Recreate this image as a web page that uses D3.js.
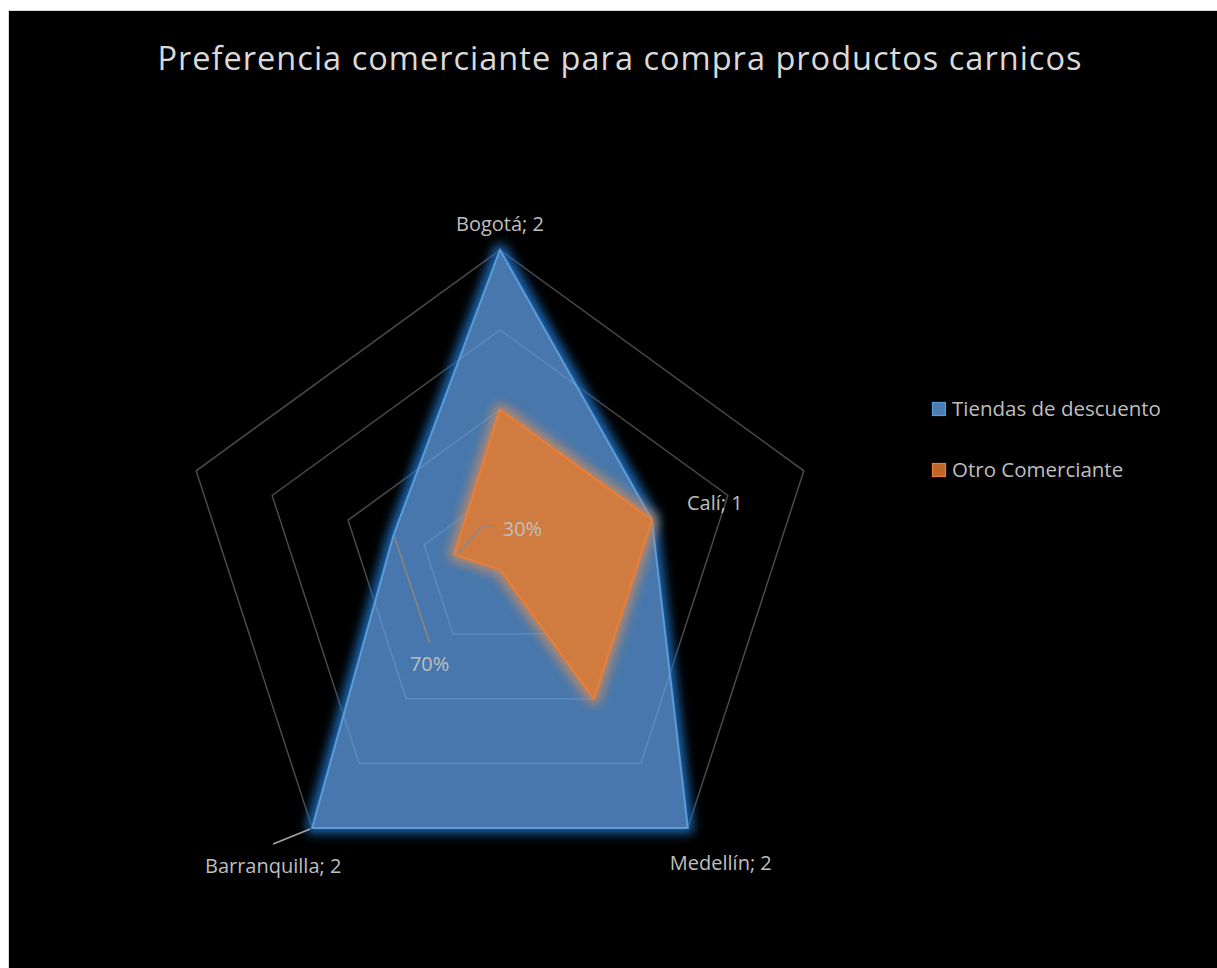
<!DOCTYPE html>
<html><head><meta charset="utf-8">
<script src="https://cdn.jsdelivr.net/npm/d3@7"></script>
<style>html,body{margin:0;padding:0;background:#fff;}svg{display:block;}</style>
</head><body>
<script>
const title = "Preferencia comerciante para compra productos carnicos";
const categories = ["Bogotá", "Calí", "Medellín", "Barranquilla", ""];
const seriesNames = ["Tiendas de descuento", "Otro Comerciante"];
const tiendas = [2, 1, 2, 2, 0.7];
const otro = [1, 1, 1, 0, 0.3];
const gridTicks = [0.5, 1, 1.5, 2];
const maxValue = 2;

const W = 1217, H = 968;
const svg = d3.select("body").append("svg").attr("width", W).attr("height", H);
const defs = svg.append("defs");
function glow(id, color, sd, op, dil) {
  const f = defs.append("filter").attr("id", id).attr("x", "-30%").attr("y", "-30%").attr("width", "160%").attr("height", "160%");
  f.append("feMorphology").attr("in", "SourceAlpha").attr("operator", "dilate").attr("radius", dil).attr("result", "d");
  f.append("feGaussianBlur").attr("in", "d").attr("stdDeviation", sd).attr("result", "b");
  f.append("feFlood").attr("flood-color", color).attr("flood-opacity", op);
  f.append("feComposite").attr("in2", "b").attr("operator", "in").attr("result", "g");
  const m = f.append("feMerge");
  m.append("feMergeNode").attr("in", "g");
  m.append("feMergeNode").attr("in", "SourceGraphic");
}
glow("glowBlue", "#1f6fc0", 5.5, 0.95, 4);
glow("glowOrange", "#c08a66", 5.5, 0.9, 4);

// chart area
svg.append("rect").attr("x", 8.5).attr("y", 10.5).attr("width", W - 8).attr("height", H - 10)
  .attr("fill", "#000").attr("stroke", "#d9d9d9").attr("stroke-width", 1);

const font = "'Open Sans', 'Noto Sans', sans-serif";
const txtColor = "#bfbfbf";

// title
const t = svg.append("text").attr("x", 620).attr("y", 70).attr("text-anchor", "middle")
  .attr("fill", "#d9d9d9").attr("font-family", font).attr("font-size", 30).attr("letter-spacing", 1).text(title);
const tw = t.node().getComputedTextLength();
t.attr("font-size", 30 * 930 / tw);

const cx = 500, cy = 569.5, R = 319.5;
const r = d3.scaleLinear().domain([0, maxValue]).range([0, R]);
const n = categories.length;
const angle = i => (i * 2 * Math.PI) / n;
const pt = (i, v) => [cx + r(v) * Math.sin(angle(i)), cy - r(v) * Math.cos(angle(i))];
const line = d3.line().curve(d3.curveLinearClosed);

const g = svg.append("g");
// grid
gridTicks.forEach(tk => {
  g.append("path").attr("d", line(categories.map((c, i) => pt(i, tk))))
    .attr("fill", "none").attr("stroke", "#4a4a4a").attr("stroke-width", 1.5);
});

// series
const series = [
  {name: seriesNames[0], values: tiendas, fill: "#4677ac", stroke: "#5b9bd5", filter: "url(#glowBlue)", sw: 2, op: 1},
  {name: seriesNames[1], values: otro, fill: "#d27b3e", stroke: "#ed7d31", filter: "url(#glowOrange)", sw: 2, op: 0.95}
];
const clip = defs.append("clipPath").attr("id", "seriesClip");
clip.append("path").attr("d", line(tiendas.map((v, i) => pt(i, v))));
series.forEach((s, si) => {
  g.append("path").attr("d", line(s.values.map((v, i) => pt(i, v))))
    .attr("fill", s.fill).attr("fill-opacity", s.op)
    .attr("stroke", s.stroke).attr("stroke-width", s.sw).attr("stroke-linejoin", "miter")
    .attr("filter", s.filter);
  if (si === 0) {
    // grid seen through the translucent fill
    gridTicks.forEach(tk => {
      g.append("path").attr("d", line(categories.map((c, i) => pt(i, tk))))
        .attr("clip-path", "url(#seriesClip)")
        .attr("fill", "none").attr("stroke", "#7fb0e0").attr("stroke-opacity", 0.35).attr("stroke-width", 1.5);
    });
  }
});

// data labels
const fmtPct = d3.format(".0%");
function labelText(i, v) { return categories[i] ? `${categories[i]}; ${v}` : fmtPct(v); }
const lab = svg.append("g").attr("font-family", font).attr("font-size", 20).attr("fill", txtColor);
// blue series labels: [dx, dy, anchor] offsets from point
const blueOff = [[0, -19, "middle"], [35, -10, "start"], [-18, 42, "start"], [-39, 45, "middle"], [36, 136, "middle"]];
tiendas.forEach((v, i) => {
  const [x, y] = pt(i, v);
  const o = blueOff[i];
  lab.append("text").attr("x", x + o[0]).attr("y", y + o[1]).attr("text-anchor", o[2]).text(labelText(i, v));
});
// leader lines
{
  const [x, y] = pt(3, tiendas[3]);
  svg.append("path").attr("d", `M${x - 2},${y + 1}L${x - 39},${y + 16}`).attr("stroke", "#a6a6a6").attr("stroke-width", 1.5).attr("fill", "none");
  const [x4, y4] = pt(4, tiendas[4]);
  svg.append("path").attr("d", `M${x4 + 1},${y4 + 2}L${x4 + 36},${y4 + 108}`).attr("stroke", "#8f8579").attr("stroke-width", 1.5).attr("fill", "none");
  const [ox, oy] = pt(4, otro[4]);
  svg.append("path").attr("d", `M${ox + 2},${oy}L${ox + 28},${oy - 29}L${ox + 38},${oy - 29}`).attr("stroke", "#7f8c99").attr("stroke-width", 1.5).attr("fill", "none");
  lab.append("text").attr("x", ox + 68).attr("y", oy - 19).attr("text-anchor", "middle").text(labelText(4, otro[4]));
}

// legend
const leg = svg.append("g").attr("font-family", font).attr("font-size", 20.5).attr("fill", txtColor);
series.forEach((s, i) => {
  const y = 409 + i * 61;
  leg.append("rect").attr("x", 932.5).attr("y", y - 6.5).attr("width", 13).attr("height", 13)
    .attr("fill", i === 0 ? "#4a7db3" : "#c0652c").attr("stroke", s.stroke).attr("stroke-width", 1.2);
  leg.append("text").attr("x", 952).attr("y", y + 7).text(s.name);
});
</script>
</body></html>
